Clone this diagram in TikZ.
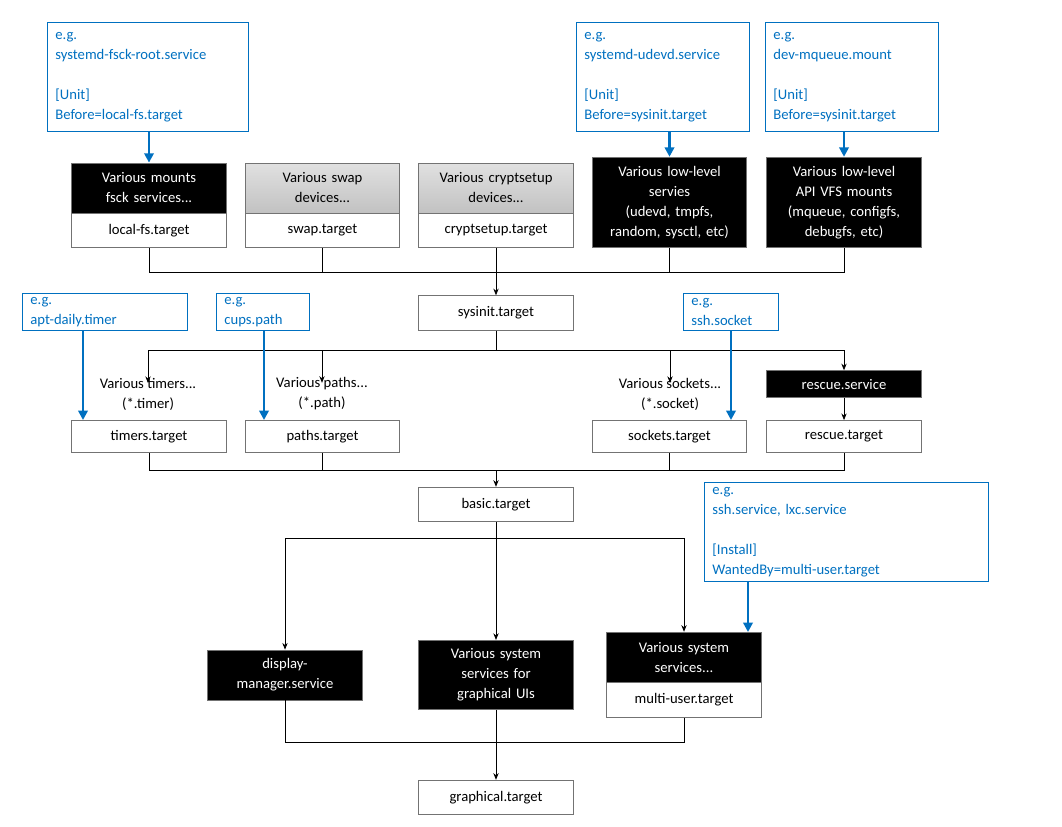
\documentclass[tikz,border=0pt]{standalone}
\usepackage{fontspec}
\setmainfont{Carlito}
\usetikzlibrary{arrows.meta}
\definecolor{eg}{HTML}{0070C0}
\begin{document}
\begin{tikzpicture}[x=0.75pt,y=-0.75pt,
  every node/.style={font=\fontsize{11}{15}\selectfont},
  base/.style={draw=black!55,line width=0.6pt,inner sep=1pt,align=center,text width=114pt},
  wbox/.style={base,fill=white,minimum height=26pt},
  kbox/.style={base,fill=black,text=white},
  gbox/.style={base,top color=black!12,bottom color=black!24,minimum height=37.5pt},
  ebox/.style={draw=eg,line width=0.6pt,text=eg,align=left,anchor=north west,inner xsep=6pt,inner ysep=3pt},
  lbl/.style={align=center,inner sep=0pt},
  ln/.style={draw=black,line width=0.6pt},
  ar/.style={ln,-{Stealth[length=5pt,width=4pt]}},
  bar/.style={draw=eg,line width=2pt,-{Triangle[length=7pt,width=7pt]}}]
\useasboundingbox (0,0) rectangle (1062,826);
% blue example boxes
\node[ebox,text width=139pt,minimum height=82pt] (e1) at (47,22) {e.g.\\systemd-fsck-root.service\\~\\{}[Unit]\\Before=local-fs.target};
\node[ebox,text width=118pt,minimum height=82pt] (e2) at (576,22) {e.g.\\systemd-udevd.service\\~\\{}[Unit]\\Before=sysinit.target};
\node[ebox,text width=118pt,minimum height=82pt] (e3) at (765,22) {e.g.\\dev-mqueue.mount\\~\\{}[Unit]\\Before=sysinit.target};
% top row
\node[kbox,minimum height=37.5pt] (m1) at (149,188) {Various mounts\\fsck services...};
\node[wbox] (lfs) at (149,230.5) {local-fs.target};
\node[gbox] (m2) at (322.5,188) {Various swap\\devices...};
\node[wbox] (swp) at (322.5,230.5) {swap.target};
\node[gbox] (m3) at (496,188) {Various cryptsetup\\devices...};
\node[wbox] (cry) at (496,230.5) {cryptsetup.target};
\node[kbox,minimum height=68pt] (m4) at (669.5,202.5) {Various low-level\\servies\\(udevd, tmpfs,\\random, sysctl, etc)};
\node[kbox,minimum height=68pt] (m5) at (844,202.5) {Various low-level\\API VFS mounts\\(mqueue, configfs,\\debugfs, etc)};
\draw[bar] (e1.south -| m1) -- (m1.north);
\draw[bar] (e2.south -| m4) -- (m4.north);
\draw[bar] (e3.south -| m5) -- (m5.north);
\node[wbox] (sys) at (496,313) {sysinit.target};
\coordinate (j1) at (496,272);
\draw[ln] (lfs.south) |- (j1) (swp.south) |- (j1) (m4.south) |- (j1) (m5.south) |- (j1);
\draw[ar] (cry.south) -- (sys.north);
% second tier
\node[ebox,text width=112pt,minimum height=28pt,inner ysep=1pt] (e4) at (22,293) {e.g.\\apt-daily.timer};
\node[ebox,text width=58pt,minimum height=28pt,inner ysep=1pt] (e5) at (216,293) {e.g.\\cups.path};
\node[ebox,text width=59pt,minimum height=28pt,inner ysep=1pt] (e6) at (683,293) {e.g.\\ssh.socket};
\node[lbl] (l1) at (148,394) {Various timers...\\(*.timer)};
\node[lbl] (l2) at (322,394) {Various paths...\\(*.path)};
\node[lbl] (l3) at (670,394) {Various sockets...\\(*.socket)};
\node[kbox,minimum height=20pt] (rs) at (844,384) {rescue.service};
\node[wbox,minimum height=24pt] (tt) at (149,436.5) {timers.target};
\node[wbox,minimum height=24pt] (pt) at (322.5,436.5) {paths.target};
\node[wbox,minimum height=24pt] (st) at (669.5,436.5) {sockets.target};
\node[wbox,minimum height=24pt] (rt) at (844,436.5) {rescue.target};
\coordinate (j2) at (496,350);
\draw[ln] (sys.south) -- (j2);
\draw[ar] (j2) -| ([yshift=-4pt]l1.north);
\draw[ar] (j2) -| ([yshift=-4pt]l2.north);
\draw[ar] (j2) -| ([yshift=-4pt]l3.north);
\draw[ar] (j2) -| (rs.north);
\draw[ar] (rs.south) -- (rt.north);
\coordinate (t4) at (83,420);
\coordinate (t5) at (264,420);
\coordinate (t6) at (731,420);
\draw[bar] (e4.south -| t4) -- (t4);
\draw[bar] (e5.south -| t5) -- (t5);
\draw[bar] (e6.south -| t6) -- (t6);
\node[wbox] (bas) at (496,504.5) {basic.target};
\coordinate (j3) at (496,470);
\draw[ln] (tt.south) |- (j3) (pt.south) |- (j3) (st.south) |- (j3) (rt.south) |- (j3);
\draw[ar] (j3) -- (bas.north);
% third tier
\node[ebox,text width=201pt,minimum height=74pt] (e7) at (704,482) {e.g.\\ssh.service, lxc.service\\~\\{}[Install]\\WantedBy=multi-user.target};
\node[kbox,minimum height=37.5pt] (dm) at (285,675) {display-\\manager.service};
\node[kbox,minimum height=52pt] (gu) at (496,675) {Various system\\services for\\graphical UIs};
\node[kbox,minimum height=38pt] (mu) at (684,657.5) {Various system\\services...};
\node[wbox] (mut) at (684,700) {multi-user.target};
\coordinate (j4) at (496,538);
\draw[ln] (bas.south) -- (j4);
\draw[ar] (j4) -| (dm.north);
\draw[ar] (j4) -- (gu.north);
\draw[ar] (j4) -| (mu.north);
\coordinate (t7) at (748,632);
\draw[bar] (e7.south -| t7) -- (t7);
\node[wbox] (gr) at (496,797.5) {graphical.target};
\coordinate (j5) at (496,742);
\draw[ln] (dm.south) |- (j5) (mut.south) |- (j5);
\draw[ar] (gu.south) -- (gr.north);
\end{tikzpicture}
\end{document}
